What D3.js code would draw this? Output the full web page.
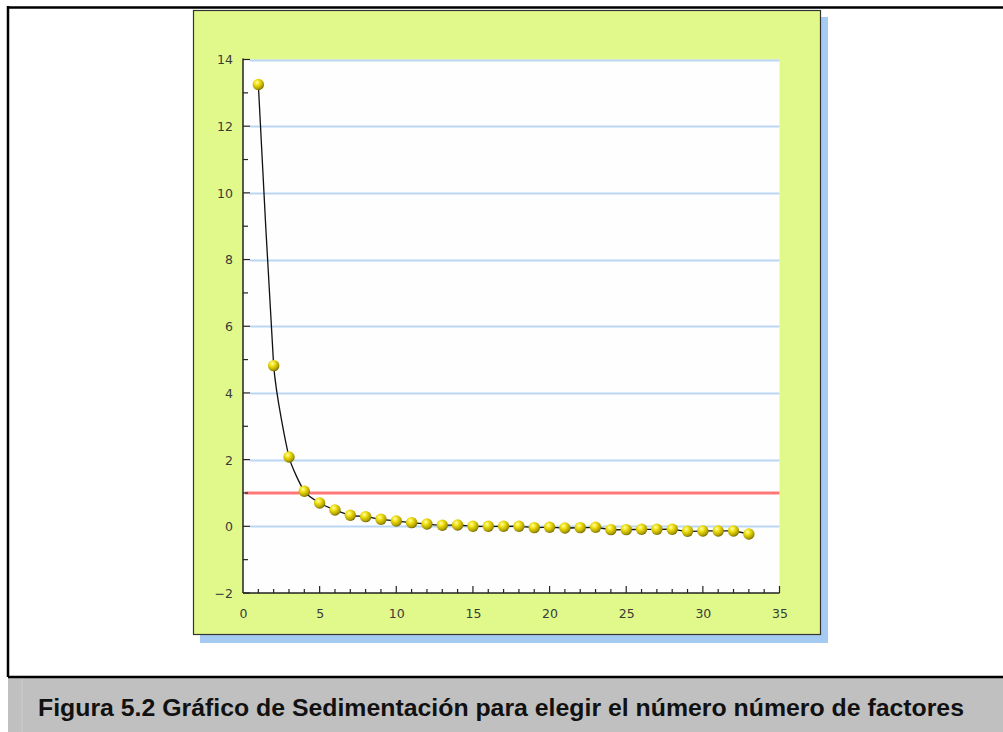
<!DOCTYPE html>
<html><head><meta charset="utf-8">
<script src="https://cdn.jsdelivr.net/npm/d3@7"></script>
<style>html,body{margin:0;padding:0;background:#fff;}svg{display:block;}</style>
</head><body>
<script>
const componentes = d3.range(1, 34);
const autovalores = [13.25, 4.82, 2.08, 1.05, 0.70, 0.49, 0.33, 0.29, 0.21, 0.16, 0.11, 0.07, 0.03, 0.04, 0.00,
  0.00, 0.00, 0.00, -0.04, -0.03, -0.05, -0.04, -0.03, -0.10, -0.10, -0.09, -0.09, -0.09, -0.15, -0.14, -0.14, -0.14, -0.23];
const yTicks = [-2, 0, 2, 4, 6, 8, 10, 12, 14];
const xTicks = [0, 5, 10, 15, 20, 25, 30, 35];
const umbral = 1;
const caption = "Figura 5.2 Gráfico de Sedimentación para elegir el número número de factores";

const W = 1003, H = 732;
const svg = d3.select("body").append("svg").attr("width", W).attr("height", H);

// frame
svg.append("line").attr("x1", 8).attr("x2", W).attr("y1", 7.5).attr("y2", 7.5).attr("stroke", "#000").attr("stroke-width", 2.5);
svg.append("line").attr("x1", 8).attr("x2", 8).attr("y1", 6).attr("y2", 677).attr("stroke", "#000").attr("stroke-width", 2.5);
svg.append("rect").attr("x", 8).attr("y", 677).attr("width", W - 8).attr("height", H - 677).attr("fill", "#c0c0c0");
svg.append("line").attr("x1", 22).attr("x2", 22).attr("y1", 678).attr("y2", H).attr("stroke", "#cdcdcd").attr("stroke-width", 1);
svg.append("line").attr("x1", 8).attr("x2", W).attr("y1", 677).attr("y2", 677).attr("stroke", "#000").attr("stroke-width", 2.5);
svg.append("text").attr("x", 501).attr("y", 716).attr("text-anchor", "middle")
  .attr("font-family", "'Liberation Sans', Arial, sans-serif").attr("font-weight", "bold").attr("font-size", 23)
  .attr("textLength", 926).attr("lengthAdjust", "spacingAndGlyphs")
  .attr("fill", "#111").text(caption);

// panel with shadow
svg.append("rect").attr("x", 200).attr("y", 17).attr("width", 628).attr("height", 626).attr("fill", "#a6cbf3");
svg.append("rect").attr("x", 193.5).attr("y", 10.5).attr("width", 627).attr("height", 624).attr("fill", "#e0f98a").attr("stroke", "#333").attr("stroke-width", 1.2);

const x = d3.scaleLinear().domain([0, 35]).range([243, 779.5]);
const y = d3.scaleLinear().domain([-2, 14]).range([593, 59.5]);

const defs = svg.append("defs");
const grad = defs.append("radialGradient").attr("id", "ball").attr("cx", "38%").attr("cy", "32%").attr("r", "70%");
grad.append("stop").attr("offset", "0%").attr("stop-color", "#ffffb0");
grad.append("stop").attr("offset", "35%").attr("stop-color", "#f0e010");
grad.append("stop").attr("offset", "80%").attr("stop-color", "#b0a000");
grad.append("stop").attr("offset", "100%").attr("stop-color", "#6e6400");

// plot background
svg.append("rect").attr("x", x(0)).attr("y", y(14)).attr("width", x(35) - x(0)).attr("height", y(-2) - y(14)).attr("fill", "#fefefe");

// gridlines
svg.append("g").selectAll("line").data(yTicks.filter(d => d > -2)).join("line")
  .attr("x1", x(0) + 7).attr("x2", x(35)).attr("y1", d => Math.round(y(d)) + 0.5).attr("y2", d => Math.round(y(d)) + 0.5)
  .attr("stroke", "#b9d6f4").attr("stroke-width", 2);

// threshold red line
svg.append("line").attr("x1", x(0) + 2).attr("x2", x(35)).attr("y1", y(umbral)).attr("y2", y(umbral))
  .attr("stroke", "#ff7878").attr("stroke-width", 3);

const tickFont = "'DejaVu Sans', Verdana, sans-serif";
// y axis
const yAxisG = svg.append("g").attr("transform", `translate(${x(0)},0)`);
yAxisG.call(d3.axisLeft(y).tickValues(yTicks).tickSize(0).tickPadding(10).tickFormat(d => d < 0 ? "\u2212" + Math.abs(d) : d));
yAxisG.select(".domain").remove();
yAxisG.selectAll("text").attr("font-family", tickFont).attr("font-size", 12.5).attr("fill", "#3a3a3a").attr("dy", "0.35em");
yAxisG.append("line").attr("x1", 0).attr("x2", 0).attr("y1", y(14) - 1).attr("y2", y(-2)).attr("stroke", "#222").attr("stroke-width", 1.5);
yAxisG.selectAll("line.maj").data(yTicks).join("line").attr("class", "maj")
  .attr("x1", 0).attr("x2", 7).attr("y1", d => y(d)).attr("y2", d => y(d)).attr("stroke", "#222").attr("stroke-width", 1.2);
yAxisG.selectAll("line.min").data(d3.range(-1, 14, 2)).join("line").attr("class", "min")
  .attr("x1", 0).attr("x2", 5).attr("y1", d => y(d)).attr("y2", d => y(d)).attr("stroke", "#222").attr("stroke-width", 1.2);

// x axis
const xAxisG = svg.append("g").attr("transform", `translate(0,${y(-2)})`);
xAxisG.call(d3.axisBottom(x).tickValues(xTicks).tickSize(0).tickPadding(16));
xAxisG.select(".domain").remove();
xAxisG.selectAll("text").attr("font-family", tickFont).attr("font-size", 12.5).attr("fill", "#3a3a3a");
xAxisG.append("line").attr("x1", x(0)).attr("x2", x(35)).attr("y1", 0).attr("y2", 0).attr("stroke", "#222").attr("stroke-width", 1.5);
xAxisG.selectAll("line.t").data(d3.range(1, 36)).join("line").attr("class", "t")
  .attr("x1", d => x(d)).attr("x2", d => x(d)).attr("y1", 0).attr("y2", d => d % 5 === 0 ? -7 : -4)
  .attr("stroke", "#222").attr("stroke-width", 1.2);

// curve
const pts = componentes.map((c, i) => [c, autovalores[i]]);
svg.append("path").datum(pts)
  .attr("d", d3.line().x(d => x(d[0])).y(d => y(d[1])).curve(d3.curveCardinal.tension(0.5)))
  .attr("fill", "none").attr("stroke", "#111").attr("stroke-width", 1.3);

// balls
svg.append("g").selectAll("circle").data(pts).join("circle")
  .attr("cx", d => x(d[0])).attr("cy", d => y(d[1])).attr("r", 5.7)
  .attr("fill", "url(#ball)");
</script>
</body></html>
